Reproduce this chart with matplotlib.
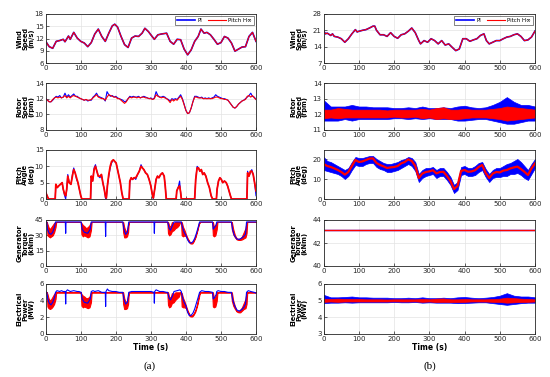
import numpy as np
import matplotlib
matplotlib.use('Agg')
import matplotlib.pyplot as plt

PI_COLOR = '#0000ff'
HINF_COLOR = '#ff0000'

# ---------------- (a) below rated / transition case ----------------
t_wind_a = [0, 10, 20, 30, 40, 50, 55, 65, 70, 80, 90, 100, 110, 120, 130, 140, 150, 160, 170, 180,
            190, 197, 205, 215, 225, 235, 245, 255, 265, 275, 283, 293, 300, 310, 320, 330, 345, 355, 365, 375,
            385, 395, 405, 415, 425, 435, 443, 452, 460, 470, 480, 490, 500, 510, 520, 530, 540, 550, 560, 570,
            580, 590, 600]
wind_a = [11.3, 10.0, 9.6, 11.3, 11.5, 11.8, 11.2, 12.6, 11.8, 13.5, 12.1, 11.3, 10.9, 10.0, 11.0, 13.1, 14.3, 12.5, 11.3, 13.3,
          15.1, 15.5, 14.8, 12.5, 10.5, 9.8, 12.1, 12.6, 12.5, 13.3, 14.5, 13.7, 12.9, 11.8, 12.9, 13.1, 13.3, 11.3, 10.6, 11.8,
          11.7, 9.4, 8.0, 9.2, 11.3, 12.5, 14.3, 13.3, 13.5, 12.9, 11.8, 10.6, 11.0, 12.5, 12.1, 10.9, 8.9, 9.4, 9.9, 10.0,
          12.5, 13.5, 11.3]

t_rotor_a = np.arange(0, 601, 5)
rotor_a_pi = [12.0, 11.8, 11.6, 11.6, 11.8, 12.1, 12.3, 12.2, 12.4, 12.1,
              12.2, 12.7, 12.2, 12.5, 12.2, 12.4, 12.6, 12.3, 12.3, 12.1,
              12.0, 11.9, 11.8, 11.9, 11.7, 11.8, 11.8, 12.2, 12.4, 12.7,
              12.3, 12.2, 12.1, 12.0, 11.7, 12.9, 12.5, 12.3, 12.4, 12.2,
              12.3, 12.1, 12.0, 11.9, 11.8, 11.6, 11.7, 12.0, 12.3, 12.2,
              12.3, 12.2, 12.2, 12.3, 12.1, 12.2, 12.3, 12.2, 12.1, 12.0,
              12.1, 11.9, 12.1, 12.9, 12.4, 12.2, 12.2, 12.3, 12.2, 12.0,
              11.9, 11.7, 12.0, 11.9, 12.0, 11.9, 12.2, 12.5, 12.0, 11.3,
              10.5, 10.1, 10.2, 10.8, 11.6, 12.3, 12.3, 12.2, 12.1, 12.2,
              12.0, 12.1, 12.0, 12.1, 12.0, 12.1, 12.2, 12.5, 12.3, 12.2,
              12.1, 12.0, 12.0, 11.9, 11.8, 11.5, 11.2, 10.9, 10.8, 11.0,
              11.3, 11.5, 11.7, 11.8, 12.0, 12.2, 12.4, 12.7, 12.3, 12.2,
              11.9]
rotor_a_hinf = [12.0, 11.8, 11.6, 11.6, 11.9, 12.1, 12.2, 12.1, 12.2, 12.1,
                12.2, 12.4, 12.1, 12.3, 12.1, 12.3, 12.4, 12.3, 12.2, 12.1,
                12.0, 11.9, 11.8, 11.9, 11.8, 11.8, 11.9, 12.1, 12.3, 12.5,
                12.2, 12.1, 12.0, 12.0, 11.8, 12.2, 12.5, 12.4, 12.3, 12.2,
                12.2, 12.0, 12.0, 11.8, 11.6, 11.4, 11.6, 12.0, 12.2, 12.1,
                12.2, 12.2, 12.1, 12.2, 12.1, 12.2, 12.2, 12.1, 12.1, 12.0,
                12.0, 11.9, 12.0, 12.5, 12.3, 12.2, 12.1, 12.2, 12.1, 12.0,
                11.8, 11.5, 11.9, 11.7, 11.9, 11.8, 12.1, 12.3, 11.9, 11.2,
                10.5, 10.1, 10.2, 10.8, 11.6, 12.2, 12.2, 12.1, 12.1, 12.1,
                12.0, 12.0, 12.0, 12.0, 12.0, 12.0, 12.1, 12.2, 12.2, 12.1,
                12.0, 12.0, 11.9, 11.9, 11.8, 11.5, 11.2, 10.9, 10.8, 11.0,
                11.3, 11.5, 11.7, 11.8, 11.9, 12.3, 12.4, 12.2, 12.4, 12.1,
                11.9]

t_pitch_a = [0, 4, 8,
             27, 29, 33, 37, 42, 47, 50, 54, 57, 60, 63, 67, 72, 77, 80, 84, 88, 92, 96, 100, 103,
             128, 130, 134, 138, 142, 146, 150, 155, 159, 163, 167, 171, 173, 176, 180, 184, 188, 193, 197, 201, 205, 209, 213, 217, 221,
             238, 240, 244, 248, 252, 257, 262, 267, 272, 276, 280, 285, 290, 295, 300, 304, 307, 311, 315, 319, 323, 328, 333, 338, 341, 344,
             372, 374, 378, 382, 385, 387,
             425, 428, 432, 436, 440, 444, 448, 452, 457, 462, 467, 472, 476,
             487, 489, 493, 497, 501, 505, 510, 515, 519, 523, 527, 530,
             574, 576, 580, 584, 588, 592, 596, 600]
pitch_a_pi = [2, 1, 0,
              0, 4, 3.5, 4, 4.5, 5, 3, 1, 0, 3, 7.5, 5, 4.5, 8, 9.5, 8, 6, 5, 3, 1, 0,
              0, 7, 5.5, 9.5, 10.5, 8.5, 7, 6.5, 7.5, 5, 3, 0, 0, 4, 7, 9.5, 11, 12, 11.5, 11, 9, 7, 5, 2, 0,
              0, 5, 6.5, 6, 6.5, 6, 7.5, 8.5, 10.5, 9.5, 9, 8, 7.5, 6, 4, 1.5, 0, 3, 6, 7, 6.5, 7.5, 8, 7, 4, 0,
              0, 2.5, 3.5, 5.5, 2, 0,
              0, 6, 10, 9.5, 8.5, 9, 7.5, 8, 7, 5, 3.5, 1, 0,
              0, 3, 5.5, 6.5, 6, 5, 5.5, 5, 4, 2.5, 1, 0,
              0, 8.5, 7, 8, 9, 7.5, 5, 1]
pitch_a_hinf = [2, 1, 0,
                0, 4.5, 3.5, 4, 4.5, 5, 3, 1.5, 1, 3, 7, 5, 4.5, 7.5, 9, 8, 6.5, 5, 3, 1, 0,
                0, 7, 5.5, 9, 10, 8.5, 7, 7, 7.5, 5, 3, 0.5, 0.3, 4, 7.5, 10, 11.5, 12, 11.5, 11, 9, 7, 5, 2, 0,
                0, 5.5, 6.5, 6, 6.5, 6.5, 7.5, 8.5, 10, 9.5, 9, 8, 7.5, 6, 4, 1.5, 0.3, 3, 6, 7, 6.5, 7.5, 8, 7, 4, 0,
                0, 2.5, 3.5, 4, 2, 0,
                0, 6, 9.5, 9.5, 8.5, 9, 7.5, 8, 7, 5, 3.5, 1, 0,
                0, 3, 5.5, 6.5, 6, 5, 5.5, 5, 4, 2.5, 1, 0,
                0, 8, 7, 8.5, 8.5, 7.5, 5, 2.5]

t_torque_a_pi = [0, 3, 5, 10, 15, 20, 25, 28, 56, 57, 58, 101, 104, 110, 120, 127, 130,
                 170, 171, 172, 220, 223, 228, 233, 237, 309, 310, 311, 348, 352, 356, 362, 366,
                 387, 390, 395, 400, 405, 410, 415, 420, 425, 430, 435, 439,
                 476, 478, 482, 486, 488, 530, 533, 538, 545, 552, 560, 565, 570, 573, 600]
torque_a_pi = [43.1, 43.1, 36, 32, 31, 33, 38, 43.1, 43.1, 32, 43.1, 43.1, 36, 33, 32, 36, 43.1,
               43.1, 29, 43.1, 43.1, 36, 31, 33, 43.1, 43.1, 32, 43.1, 43.1, 37, 35, 40, 43.1,
               43.1, 38, 33, 30, 25.5, 22.8, 22.5, 23.8, 27, 32, 38, 43.1,
               43.1, 36, 38, 40, 43.1, 43.1, 36, 30, 26.5, 26, 27.5, 29, 31, 43.1, 43.1]

# H-inf torque / power oscillate fast in the dips: min / max envelope
t_band_a = [0, 3, 5, 8, 12, 16, 20, 24, 28, 30,
            100, 102, 106, 110, 115, 120, 125, 129, 131,
            219, 221, 224, 228, 232, 235, 237,
            347, 349, 352, 356, 360, 365, 370, 375, 380, 384,
            386, 388, 392, 396, 400, 405, 410, 413, 418, 422, 427, 432, 437, 440,
            475, 477, 480, 484, 488, 490,
            529, 531, 535, 540, 545, 550, 555, 560, 565, 570, 573, 575, 600]
torque_a_hinf_lo = [43.1, 43.1, 30, 29, 28, 29, 30, 33, 38, 43.1,
                    43.1, 31, 29, 30, 29, 28, 29, 35, 43.1,
                    43.1, 33, 28, 28, 29, 33, 43.1,
                    43.1, 32, 30, 31, 34, 35, 37, 38, 40, 43.1,
                    43.1, 30, 29, 30, 29, 26, 23, 22, 22, 24, 28, 34, 41, 43.1,
                    43.1, 30, 29, 30, 36, 43.1,
                    43.1, 36, 31, 28, 26, 25.5, 25.5, 26, 27, 28, 32, 43.1, 43.1]
torque_a_hinf_hi = [43.1, 43.1, 41, 38, 36, 38, 40, 42, 43.1, 43.1,
                    43.1, 42, 40, 39, 37, 38, 40, 43.1, 43.1,
                    43.1, 43.1, 38, 34, 35, 40, 43.1,
                    43.1, 43.1, 40, 38, 43, 42, 43.1, 43.1, 43.1, 43.1,
                    43.1, 43, 38, 35, 31, 27, 24, 23, 23, 25, 29, 35, 42, 43.1,
                    43.1, 43, 38, 40, 43.1, 43.1,
                    43.1, 43.1, 36, 30, 27, 26.5, 27, 29, 33, 37, 43.1, 43.1, 43.1]

t_power_a_pi = [0, 3, 6, 10, 15, 20, 25, 28, 32, 40, 45, 50, 56, 57, 58, 62, 70, 80, 90, 95,
                101, 104, 110, 120, 127, 130, 135, 140, 150, 160, 170, 171, 172, 176, 180, 190, 200, 210, 220, 223,
                228, 233, 237, 245, 260, 275, 290, 300, 309, 310, 311, 315, 325, 335, 345, 348, 352, 356, 362, 366,
                375, 383, 387, 390, 395, 400, 405, 410, 415, 420, 425, 430, 435, 439, 445, 455, 465, 476, 478, 482,
                486, 488, 492, 500, 510, 520, 530, 533, 538, 545, 552, 560, 565, 570, 573, 578, 585, 595, 600]
power_a_pi = [5.1, 5.0, 4.2, 3.7, 3.5, 3.8, 4.4, 5.0, 5.2, 5.1, 5.2, 5.1, 5.1, 3.6, 5.1, 5.3, 5.1, 5.2, 5.1, 5.1,
              5.0, 4.2, 3.8, 3.7, 4.2, 5.1, 5.2, 5.1, 5.2, 5.0, 5.0, 3.3, 5.1, 5.4, 5.2, 5.1, 5.1, 5.0, 5.0, 4.2,
              3.6, 3.8, 5.0, 5.1, 5.1, 5.1, 5.1, 5.1, 5.0, 3.7, 5.1, 5.3, 5.1, 5.1, 5.0, 5.0, 4.3, 4.1, 4.6, 5.1,
              5.2, 5.3, 5.1, 4.4, 3.8, 3.4, 2.6, 2.2, 2.25, 2.5, 3.0, 3.7, 4.4, 5.0, 5.2, 5.1, 5.1, 5.0, 4.2, 4.4,
              4.7, 5.1, 5.2, 5.1, 5.1, 5.0, 5.0, 4.2, 3.5, 2.9, 2.75, 2.95, 3.2, 3.6, 5.0, 5.2, 5.1, 5.0, 4.9]
power_a_hinf_lo = [5.0, 5.0, 3.3, 3.1, 3.0, 3.1, 3.3, 3.6, 4.2, 5.0,
                   5.0, 3.4, 3.2, 3.3, 3.2, 3.1, 3.2, 3.8, 5.0,
                   5.0, 3.6, 3.0, 3.0, 3.1, 3.6, 5.0,
                   5.0, 3.5, 3.2, 3.3, 3.7, 3.8, 4.1, 4.3, 4.5, 5.0,
                   5.0, 3.3, 3.2, 3.2, 3.1, 2.6, 2.2, 2.1, 2.1, 2.3, 2.7, 3.4, 4.4, 5.0,
                   5.0, 3.3, 3.2, 3.3, 4.0, 5.0,
                   5.0, 4.0, 3.4, 3.0, 2.7, 2.6, 2.6, 2.8, 3.0, 3.1, 3.6, 5.0, 5.0]
power_a_hinf_hi = [5.0, 5.0, 4.8, 4.3, 4.0, 4.2, 4.5, 4.8, 5.0, 5.0,
                   5.0, 4.8, 4.6, 4.5, 4.3, 4.3, 4.5, 5.0, 5.0,
                   5.0, 5.0, 4.3, 3.8, 4.0, 4.6, 5.0,
                   5.0, 5.0, 4.5, 4.3, 4.9, 4.8, 5.0, 5.0, 5.0, 5.0,
                   5.0, 4.9, 4.3, 3.9, 3.4, 2.8, 2.35, 2.25, 2.25, 2.45, 2.9, 3.6, 4.7, 5.0,
                   5.0, 5.0, 4.3, 4.5, 5.0, 5.0,
                   5.0, 5.0, 4.0, 3.3, 2.8, 2.7, 2.9, 3.2, 3.7, 4.2, 5.0, 5.0, 5.0]

# ---------------- (b) above rated case ----------------
t_wind_b = [0, 5, 10, 20, 25, 30, 40, 50, 60, 70, 80, 90, 95, 100, 110, 120, 130, 140, 145, 150,
            160, 170, 180, 190, 200, 210, 220, 230, 240, 250, 260, 270, 275, 285, 295, 305, 315, 325, 335, 345,
            355, 365, 375, 385, 395, 405, 415, 425, 435, 445, 455, 462, 470, 480, 490, 500, 510, 520, 530, 540,
            550, 560, 570, 580, 590, 600]
wind_b = [20.7, 19.5, 19.8, 18.8, 19.5, 18.4, 18.1, 17.4, 15.9, 17.4, 19.5, 21.3, 20.3, 20.6, 21.0, 21.3, 22.0, 22.8, 22.8, 21.0,
          19.1, 19.1, 18.4, 20.0, 18.4, 17.6, 19.1, 19.5, 20.6, 22.0, 20.0, 16.6, 15.2, 16.6, 15.9, 17.4, 16.6, 15.2, 16.6, 14.7,
          15.2, 13.7, 12.3, 13.0, 17.4, 17.4, 16.3, 16.9, 17.4, 18.8, 19.5, 16.6, 15.2, 15.9, 16.6, 16.6, 17.4, 18.1, 18.4, 19.1,
          19.5, 18.4, 16.6, 16.9, 18.1, 20.7]

t_band_b = np.arange(0, 601, 20)
rotor_b_pi_lo = [11.6, 11.6, 11.6, 11.7, 11.6, 11.7, 11.7, 11.7, 11.7, 11.7,
                 11.75, 11.75, 11.7, 11.75, 11.7, 11.75, 11.7, 11.7, 11.7, 11.6,
                 11.6, 11.65, 11.7, 11.7, 11.6, 11.5, 11.4, 11.4, 11.5, 11.6, 11.6]
rotor_b_pi_hi = [12.9, 12.5, 12.5, 12.5, 12.6, 12.5, 12.5, 12.45, 12.45, 12.45,
                 12.4, 12.4, 12.45, 12.4, 12.5, 12.4, 12.4, 12.45, 12.4, 12.5,
                 12.55, 12.45, 12.4, 12.45, 12.6, 12.8, 13.1, 12.8, 12.6, 12.6, 12.5]
rotor_b_hinf_lo = [11.75, 11.8, 11.75, 11.8, 11.8, 11.8, 11.8, 11.8, 11.8, 11.8,
                   11.85, 11.8, 11.8, 11.85, 11.75, 11.8, 11.7, 11.75, 11.7, 11.7,
                   11.75, 11.8, 11.8, 11.8, 11.75, 11.7, 11.6, 11.65, 11.7, 11.75, 11.8]
rotor_b_hinf_hi = [12.3, 12.3, 12.4, 12.35, 12.3, 12.3, 12.3, 12.3, 12.3, 12.25,
                   12.3, 12.3, 12.3, 12.3, 12.35, 12.3, 12.4, 12.45, 12.3, 12.3,
                   12.35, 12.3, 12.3, 12.3, 12.35, 12.4, 12.5, 12.45, 12.4, 12.35, 12.3]

t_pitch_b = np.arange(0, 601, 10)
pitch_b_hinf = [17.5, 16.5, 16, 15.3, 14.5, 13.5, 12.2, 13.5, 16.5, 19.5,
                18.5, 18.8, 19.5, 20.2, 20.3, 18, 17, 16.3, 15.5, 15.8,
                16, 16.5, 17.8, 18.5, 19.8, 19, 16.5, 10.5, 12.7, 13.5,
                13.8, 14.4, 12.8, 13.5, 13.6, 11.5, 9, 5, 6.5, 14,
                14.5, 13.6, 13.8, 14.4, 16, 17, 13, 10.5, 12.7, 13.5,
                13.3, 14.2, 14.5, 15.3, 15.8, 16.2, 15, 13.6, 12, 15.3,
                17.8]
pitch_b_pi_lo = [14.5, 14, 13.5, 13, 12.5, 11.5, 10, 11.5, 14.5, 17,
                 16.5, 16.5, 17.5, 18, 18, 16, 15, 14.5, 13.5, 13.5,
                 14, 14.5, 15.5, 16.5, 17.5, 16.5, 14, 8.5, 10.5, 11.5,
                 12, 12.5, 10.5, 11.5, 11.5, 9.5, 7, 3, 4.5, 12,
                 12.5, 11.5, 11.5, 12, 13.5, 14.5, 11, 8.5, 10.5, 11,
                 11, 11.5, 11.5, 12.5, 12.5, 13, 12, 10.5, 9.5, 12.5,
                 15.5]
pitch_b_pi_hi = [21, 19, 18.5, 17.5, 16.5, 15.5, 14.5, 15.5, 18.5, 21,
                 20.5, 20.5, 21, 21.5, 21.5, 20, 19, 18, 17.5, 17.5,
                 18, 18.5, 19.5, 20, 21, 20.5, 18.5, 12.5, 14.5, 15.5,
                 15.5, 16, 14.5, 15.5, 15.5, 13.5, 11, 7, 8.5, 16,
                 16.5, 15.5, 15.5, 16.5, 18, 18.5, 15, 12.5, 14.5, 15.5,
                 15.5, 16.5, 17.5, 18, 19, 20, 18.5, 16.5, 14.5, 17.5,
                 20]

t_torque_b = [0, 600]
torque_b = [43.1, 43.1]

power_b_pi_lo = [4.85, 4.88, 4.88, 4.9, 4.88, 4.9, 4.9, 4.9, 4.9, 4.9,
                 4.92, 4.9, 4.9, 4.92, 4.88, 4.9, 4.88, 4.88, 4.88, 4.85,
                 4.86, 4.88, 4.9, 4.9, 4.85, 4.8, 4.75, 4.8, 4.85, 4.88, 4.88]
power_b_pi_hi = [5.35, 5.2, 5.2, 5.22, 5.25, 5.2, 5.2, 5.18, 5.18, 5.18,
                 5.15, 5.15, 5.18, 5.15, 5.2, 5.15, 5.15, 5.18, 5.15, 5.2,
                 5.22, 5.18, 5.15, 5.18, 5.22, 5.3, 5.45, 5.3, 5.25, 5.25, 5.2]
power_b_hinf_lo = [4.93, 4.95, 4.93, 4.95, 4.95, 4.95, 4.95, 4.95, 4.95, 4.95,
                   4.96, 4.95, 4.95, 4.96, 4.93, 4.95, 4.92, 4.93, 4.92, 4.92,
                   4.93, 4.95, 4.95, 4.95, 4.93, 4.92, 4.88, 4.9, 4.92, 4.93, 4.95]
power_b_hinf_hi = [5.1, 5.1, 5.12, 5.1, 5.1, 5.1, 5.08, 5.08, 5.08, 5.07,
                   5.08, 5.08, 5.08, 5.08, 5.1, 5.08, 5.12, 5.13, 5.08, 5.08,
                   5.1, 5.08, 5.08, 5.08, 5.1, 5.12, 5.18, 5.15, 5.12, 5.1, 5.08]

ylabels = ['Wind\nSpeed\n(m/s)', 'Rotor\nSpeed\n(rpm)', 'Pitch\nAngle\n(deg)',
           'Generator\nTorque\n(kNm)', 'Electrical\nPower\n(MW)']
yticks_a = [[6, 9, 12, 15, 18], [8, 10, 12, 14], [0, 5, 10, 15], [0, 15, 30, 45], [0, 2, 4, 6]]
yticks_b = [[7, 14, 21, 28], [11, 12, 13, 14], [0, 10, 20], [40, 42, 44], [3, 4, 5, 6]]
ylims_b = [(7, 28), (11, 14), (0, 24.5), (40, 44), (3, 6)]

fig = plt.figure(figsize=(5.5, 3.77), dpi=100)
W, H = 550.0, 377.0
rows_px = [(14, 63), (83, 130), (150, 199), (220, 266), (284, 334)]
cols_px = [(45.7, 256), (323.7, 535)]
label_x = [-0.055, -0.075]

axes = []
for ci, (x0, x1) in enumerate(cols_px):
    col = []
    for (y0, y1) in rows_px:
        ax = fig.add_axes([x0 / W, 1 - y1 / H, (x1 - x0) / W, (y1 - y0) / H])
        col.append(ax)
    axes.append(col)


def style(ax, yt, ylim, label, lx):
    ax.set_xlim(0, 600)
    ax.set_xticks(range(0, 601, 100))
    ax.set_yticks(yt)
    ax.set_ylim(*ylim)
    ax.grid(True, color='#e3e3e3', lw=0.5)
    ax.set_axisbelow(True)
    ax.tick_params(direction='in', length=2, width=0.5, labelsize=5, pad=1.5, colors='#262626')
    for s in ax.spines.values():
        s.set_linewidth(0.6)
        s.set_color('#262626')
    ax.set_ylabel(label, fontsize=4.8, fontweight='bold', linespacing=0.95)
    ax.yaxis.set_label_coords(lx, 0.5)


LW = 0.8
# ---- column (a)
a = axes[0]
a[0].plot(t_wind_a, wind_a, color=PI_COLOR, lw=1.2, label='PI')
a[0].plot(t_wind_a, wind_a, color=HINF_COLOR, lw=0.8, label='Pitch H\u221e')
a[1].plot(t_rotor_a, rotor_a_pi, color=PI_COLOR, lw=LW)
a[1].plot(t_rotor_a, rotor_a_hinf, color=HINF_COLOR, lw=LW)
a[2].plot(t_pitch_a, pitch_a_pi, color=PI_COLOR, lw=LW)
a[2].plot(t_pitch_a, pitch_a_hinf, color=HINF_COLOR, lw=1.3)
a[3].plot(t_torque_a_pi, torque_a_pi, color=PI_COLOR, lw=LW)
a[3].fill_between(t_band_a, torque_a_hinf_lo, torque_a_hinf_hi, color=HINF_COLOR, lw=LW)
a[4].plot(t_power_a_pi, power_a_pi, color=PI_COLOR, lw=LW)
a[4].fill_between(t_band_a, power_a_hinf_lo, power_a_hinf_hi, color=HINF_COLOR, lw=LW)
for i in range(5):
    style(a[i], yticks_a[i], (yticks_a[i][0], yticks_a[i][-1]), ylabels[i], label_x[0])

# ---- column (b)
b = axes[1]
b[0].plot(t_wind_b, wind_b, color=PI_COLOR, lw=1.2, label='PI')
b[0].plot(t_wind_b, wind_b, color=HINF_COLOR, lw=0.8, label='Pitch H\u221e')
b[1].fill_between(t_band_b, rotor_b_pi_lo, rotor_b_pi_hi, color=PI_COLOR, lw=0.5)
b[1].fill_between(t_band_b, rotor_b_hinf_lo, rotor_b_hinf_hi, color=HINF_COLOR, lw=0.5)
b[2].fill_between(t_pitch_b, pitch_b_pi_lo, pitch_b_pi_hi, color=PI_COLOR, lw=0.5)
b[2].plot(t_pitch_b, pitch_b_hinf, color=HINF_COLOR, lw=1.6)
b[3].plot(t_torque_b, torque_b, color=PI_COLOR, lw=1.0)
b[3].plot(t_torque_b, torque_b, color=HINF_COLOR, lw=1.0)
b[4].fill_between(t_band_b, power_b_pi_lo, power_b_pi_hi, color=PI_COLOR, lw=0.5)
b[4].fill_between(t_band_b, power_b_hinf_lo, power_b_hinf_hi, color=HINF_COLOR, lw=0.5)
for i in range(5):
    style(b[i], yticks_b[i], ylims_b[i], ylabels[i], label_x[1])

for col in axes:
    col[0].legend(loc='upper right', fontsize=4, handlelength=3.2, frameon=True, fancybox=False,
                  edgecolor='#262626', borderpad=0.3, labelspacing=0.2, handletextpad=0.5,
                  ncol=2, columnspacing=1.0, borderaxespad=0.4).get_frame().set_linewidth(0.5)
    col[-1].set_xlabel('Time (s)', fontsize=5.5, fontweight='bold', labelpad=1)

fig.text(150 / W, 1 - 366 / H, '(a)', fontsize=8, family='Liberation Serif', ha='center', va='center')
fig.text(430 / W, 1 - 366 / H, '(b)', fontsize=8, family='Liberation Serif', ha='center', va='center')

fig.savefig('out.png', dpi=100)
